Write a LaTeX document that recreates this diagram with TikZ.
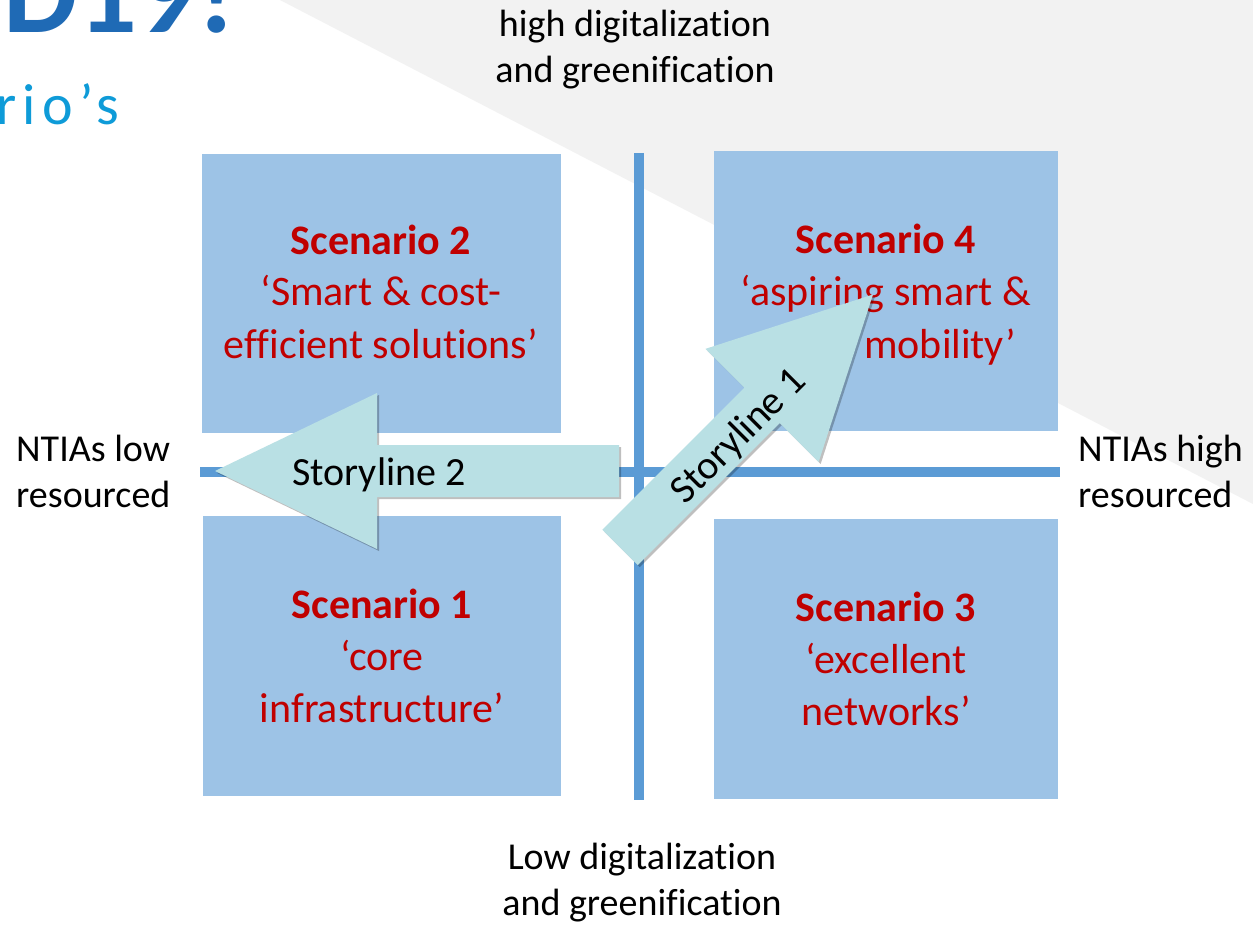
\documentclass[tikz,border=0pt]{standalone}
\usepackage{fontspec}
\setmainfont{Carlito}[Ligatures={NoCommon}]
\newfontfamily\spacedfont[LetterSpace=11]{Carlito}
\usetikzlibrary{shadows}
\definecolor{bggray}{HTML}{F2F2F2}
\definecolor{boxblue}{HTML}{9DC3E6}
\definecolor{lineblue}{HTML}{5B9BD5}
\definecolor{arrowteal}{HTML}{B9E0E4}
\definecolor{scenred}{HTML}{C00000}
\definecolor{titleblue}{HTML}{1F6AB5}
\definecolor{subblue}{HTML}{0E9BD8}
\tikzset{
  scenbox/.style={fill=boxblue, draw=none, inner sep=0pt, anchor=north west},
  axisline/.style={draw=lineblue, line width=10pt},
  scentext/.style={text=scenred, align=center, anchor=base, inner sep=0pt,
    font=\fontsize{42}{52}\selectfont},
  axislabel/.style={text=black, inner sep=0pt, anchor=base,
    font=\fontsize{38}{46}\selectfont},
  storyarrow/.style={fill=arrowteal, draw=none,
    drop shadow={shadow xshift=2pt, shadow yshift=-2pt, opacity=0.25, fill=black}},
  storytext/.style={text=black, inner sep=0pt, font=\fontsize{40}{48}\selectfont}
}
\begin{document}
\begin{tikzpicture}[x=1pt,y=-1pt]
\useasboundingbox (0,0) rectangle (1253,925);
\fill[white] (0,0) rectangle (1253,925);
% gray background wedge
\fill[bggray] (280,0) -- (1253,0) -- (1253,504) -- cycle;

% title fragments
\node[text=titleblue, anchor=base west, inner sep=0pt,
  font=\fontsize{118}{130}\selectfont\bfseries] (title) at (3,33) {D19!};
\node[text=subblue, anchor=base west, inner sep=0pt,
  font=\fontsize{58}{66}\spacedfont] (subtitle) at (-4,125) {rio’s};

% scenario boxes
\node[scenbox, minimum width=359pt, minimum height=279pt] (s2) at (202,154) {};
\node[scenbox, minimum width=344pt, minimum height=280pt] (s4) at (714,151) {};
\node[scenbox, minimum width=358pt, minimum height=280pt] (s1) at (203,516) {};
\node[scenbox, minimum width=344pt, minimum height=280pt] (s3) at (714,519) {};

% axes
\coordinate (hl) at (200,472);
\coordinate (hr) at (1060,472);
\coordinate (vt) at (639,153);
\coordinate (vb) at (639,800);
\draw[axisline] (hl) -- (hr);
\draw[axisline] (vt) -- (vb);

% scenario texts (anchor base = last line baseline)
\node[scentext] (t2) at (381,358) {\textbf{Scenario 2}\\‘Smart \& cost-\\efficient solutions’};
\node[scentext] (t4) at (886,306) {\textbf{Scenario 4}\\‘aspiring smart \&};
\node[text=scenred, anchor=base east, inner sep=0pt,
  font=\fontsize{42}{52}\selectfont] (t4b) at (1016,358) {mobility’};
\node[scentext] (t1) at (382,722) {\textbf{Scenario 1}\\‘core\\infrastructure’};
\node[scentext] (t3) at (886,725) {\textbf{Scenario 3}\\‘excellent\\networks’};

% axis labels
\node[axislabel, align=center] (top) at (635,83) {high digitalization\\and greenification};
\node[axislabel, align=center] (bottom) at (642,915) {Low digitalization\\and greenification};
\node[axislabel, align=left, anchor=base west] (left) at (16,507) {NTIAs low\\resourced};
\node[axislabel, align=left, anchor=base west] (right) at (1078,507) {NTIAs high\\resourced};

% storyline 2 arrow
\coordinate (a2tip) at (215,471);
\coordinate (a2bt) at (377,393);
\coordinate (a2st) at (377,445);
\coordinate (a2tt) at (619,445);
\coordinate (a2tb) at (619,497);
\coordinate (a2sb) at (377,497);
\coordinate (a2bb) at (377,549);
\path[storyarrow] (a2tip) -- (a2bt) -- (a2st) -- (a2tt) -- (a2tb) -- (a2sb) -- (a2bb) -- cycle;
\node[storytext, anchor=base] (st2) at (379,485) {Storyline 2};

% storyline 1 arrow
\coordinate (a1tip) at (873,294.5);
\coordinate (a1bl) at (705.4,348.9);
\coordinate (a1jl) at (744.3,387.8);
\coordinate (a1tl) at (602.3,529.8);
\coordinate (a1tr) at (637.7,565.2);
\coordinate (a1jr) at (779.7,423.2);
\coordinate (a1br) at (818.6,462.1);
\path[storyarrow] (a1tip) -- (a1bl) -- (a1jl) -- (a1tl) -- (a1tr) -- (a1jr) -- (a1br) -- cycle;
\node[storytext, rotate=45] (st1) at (739,437) {Storyline 1};
\end{tikzpicture}
\end{document}
